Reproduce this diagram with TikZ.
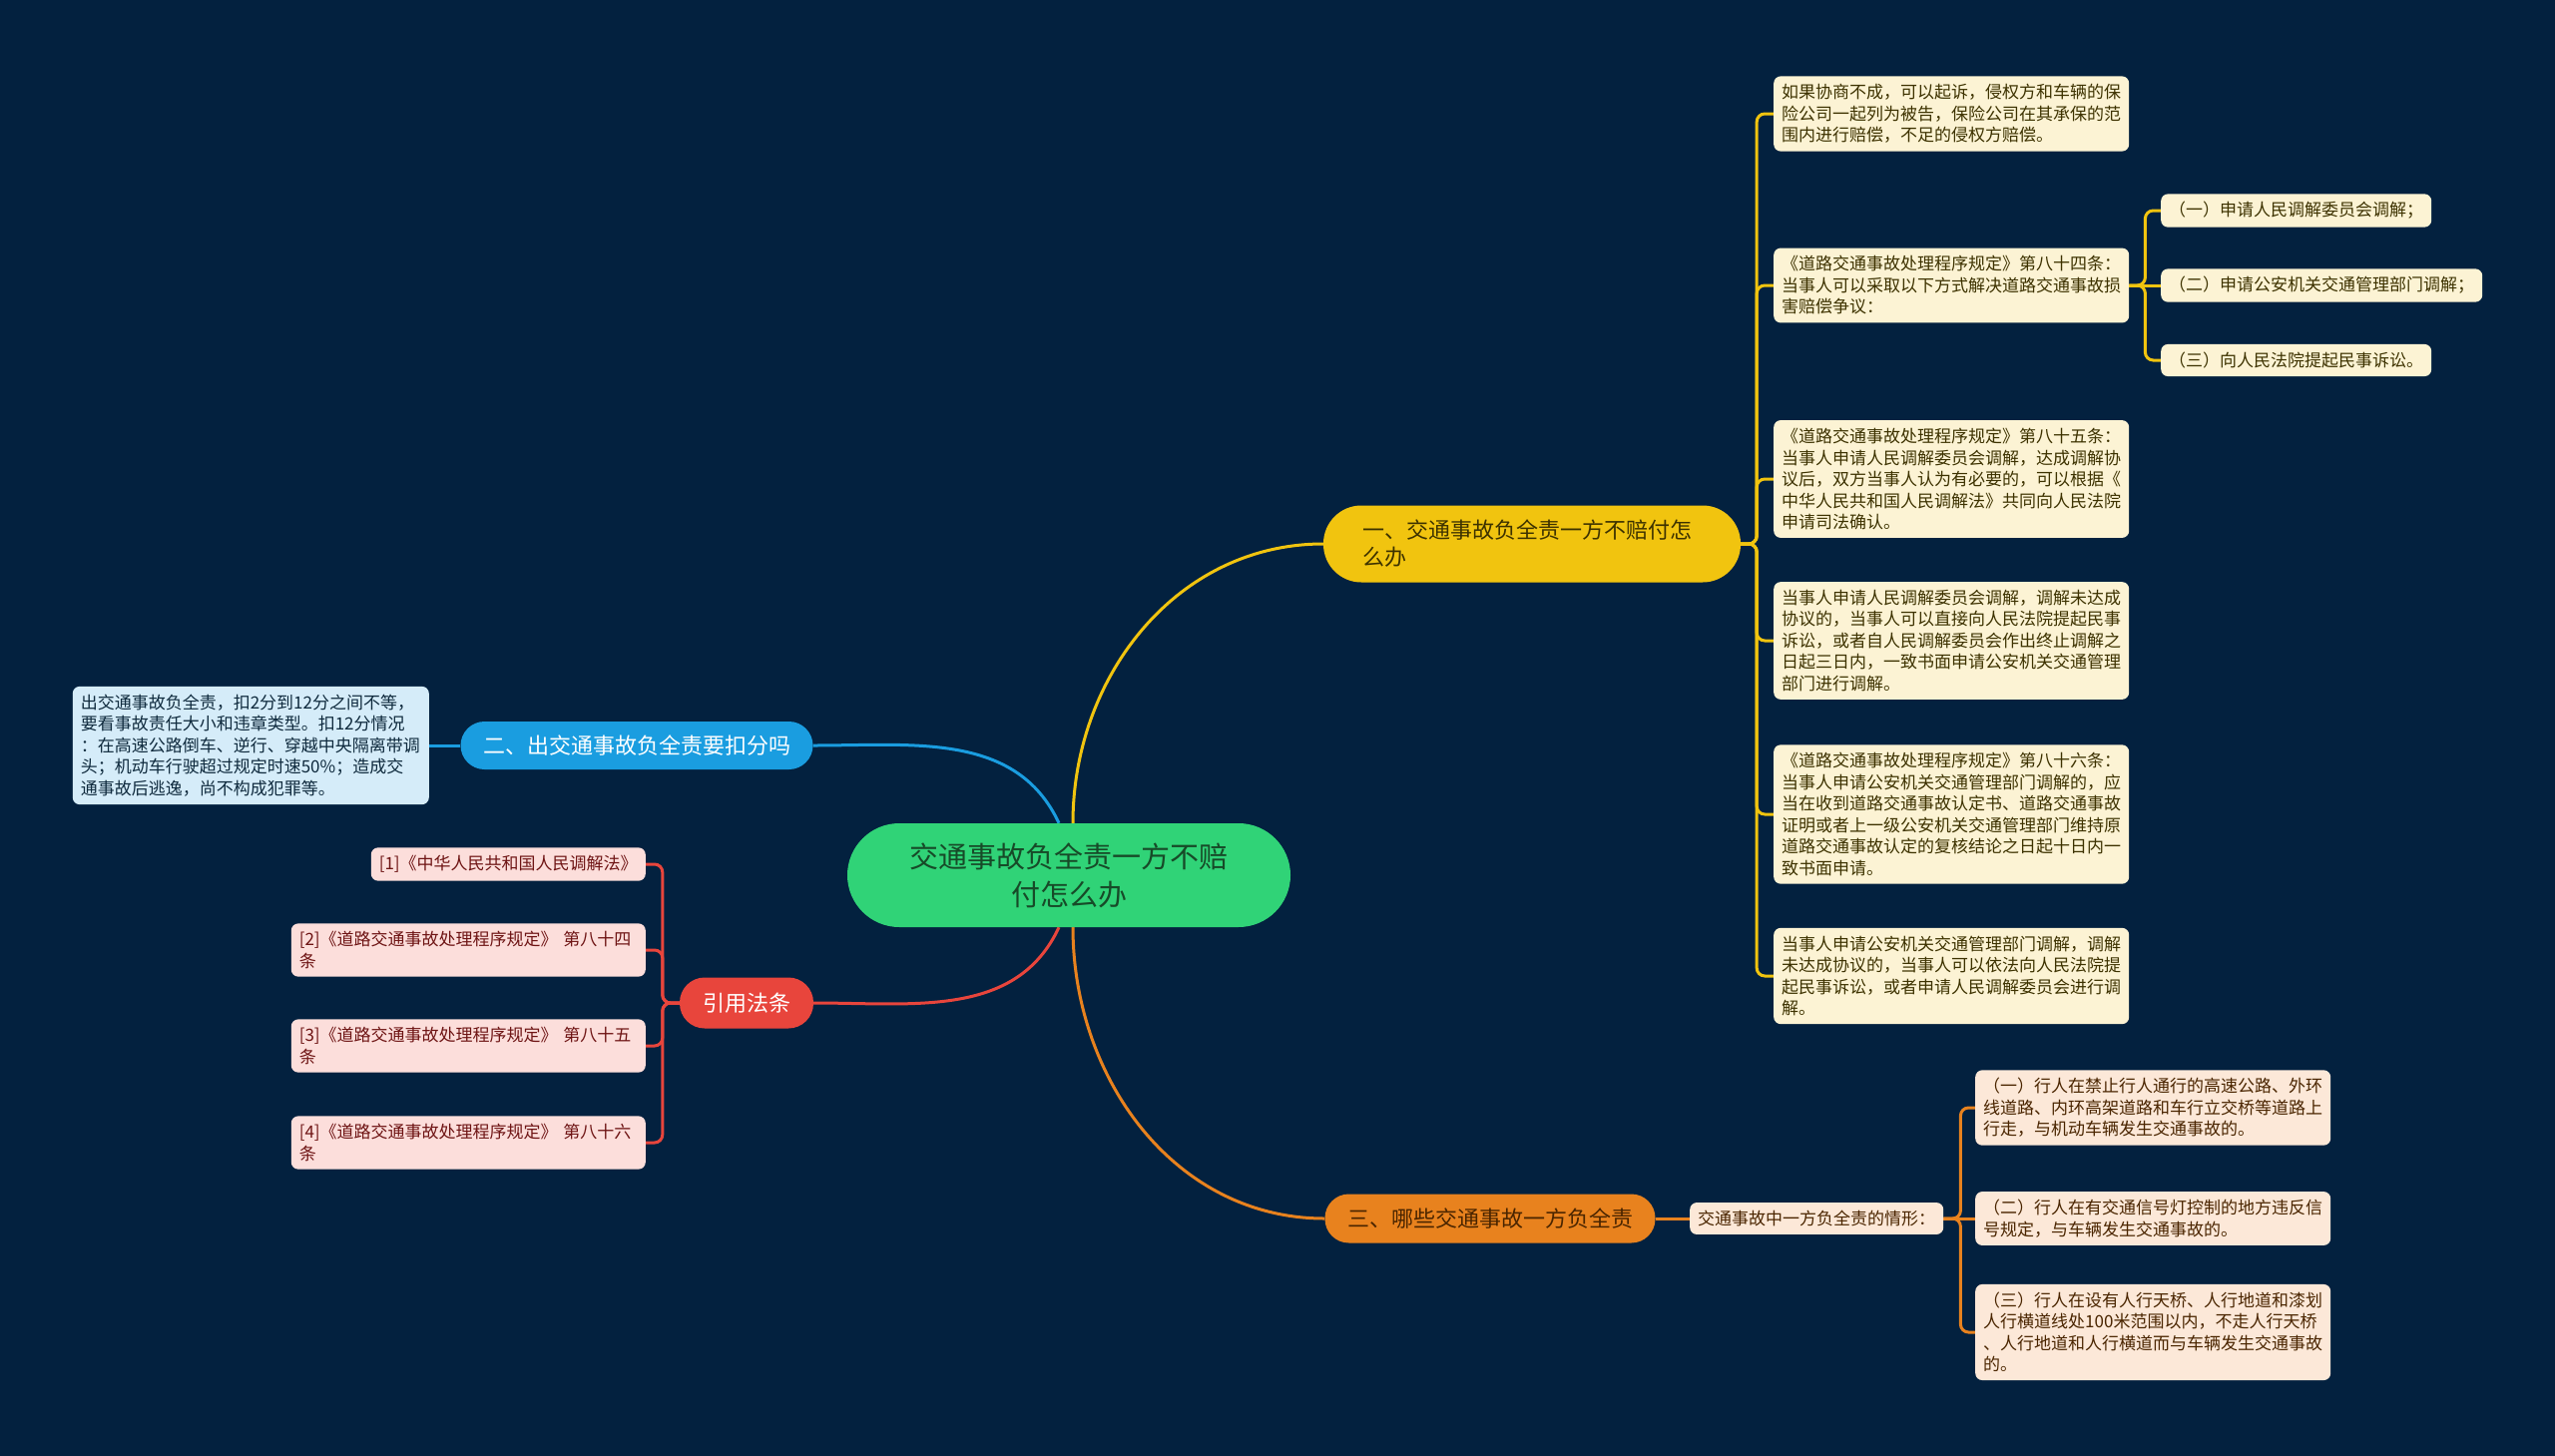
\documentclass[tikz,border=0pt]{standalone}
\usepackage{fontspec}
\newfontfamily\cjk{Noto Sans CJK SC}
\usetikzlibrary{backgrounds}

\definecolor{bgnavy}{HTML}{03213F}
\definecolor{mainfill}{HTML}{30D377}
\definecolor{maintext}{HTML}{174A28}
\definecolor{yline}{HTML}{F1C40F}
\definecolor{yfill}{HTML}{FCF3D4}
\definecolor{ytext}{HTML}{3D3200}
\definecolor{bline}{HTML}{1A9DE0}
\definecolor{bfill}{HTML}{D5ECF9}
\definecolor{btext}{HTML}{0F2A3D}
\definecolor{rline}{HTML}{E8453C}
\definecolor{rfill}{HTML}{FCDEDB}
\definecolor{rtext}{HTML}{6E1414}
\definecolor{oline}{HTML}{E8821E}
\definecolor{ofill}{HTML}{FCE8D8}
\definecolor{otext}{HTML}{4A2500}

\tikzset{
  leaf/.style={rounded corners=7pt, inner xsep=8pt, inner ysep=8pt, align=left,
    font=\cjk\fontsize{17}{21.5}\selectfont},
  yleaf/.style={leaf, fill=yfill, text=ytext, anchor=west},
  bleaf/.style={leaf, fill=bfill, text=btext, anchor=east},
  rleaf/.style={leaf, fill=rfill, text=rtext, anchor=east},
  oleaf/.style={leaf, fill=ofill, text=otext, anchor=west},
  branch/.style={font=\cjk\fontsize{22}{27}\selectfont, inner sep=0pt},
  ylink/.style={draw=yline, line width=3pt},
  blink/.style={draw=bline, line width=3pt},
  rlink/.style={draw=rline, line width=3pt},
  olink/.style={draw=oline, line width=3pt},
  elbow/.style={rounded corners=8pt}
}

\begin{document}
\begin{tikzpicture}[x=1pt,y=1pt,yscale=-1,xscale=1]
\useasboundingbox (0,0) rectangle (2560,1459);

% central topic
\node[fill=mainfill, text=maintext, rounded corners=52pt, minimum width=444pt, minimum height=104pt,
  align=center, inner sep=0pt, font=\cjk\fontsize{29}{38}\selectfont] (main) at (1071,877)
  {交通事故负全责一方不赔\\付怎么办};

% branches
\node[branch, fill=yline, text=ytext, rounded corners=38pt, minimum width=418pt, minimum height=77pt,
  text width=340pt, align=left] (yb) at (1535,545) {一、交通事故负全责一方不赔付怎\\么办};
\node[branch, fill=bline, text=white, rounded corners=24pt, minimum width=353pt, minimum height=48pt]
  (bb) at (638,747) {二、出交通事故负全责要扣分吗};
\node[branch, fill=rline, text=white, rounded corners=25pt, minimum width=134pt, minimum height=51pt]
  (rb) at (748,1005) {引用法条};
\node[branch, fill=oline, text=otext, rounded corners=24pt, minimum width=331pt, minimum height=49pt]
  (ob) at (1493,1221) {三、哪些交通事故一方负全责};

% yellow leaves
\node[yleaf, text width=340pt] (y1) at (1777,114) {如果协商不成，可以起诉，侵权方和车辆的保\\险公司一起列为被告，保险公司在其承保的范\\围内进行赔偿，不足的侵权方赔偿。};
\node[yleaf, text width=340pt] (y2) at (1777,286) {《道路交通事故处理程序规定》第八十四条：\\当事人可以采取以下方式解决道路交通事故损\\害赔偿争议：};
\node[yleaf, text width=340pt] (y3) at (1777,480) {《道路交通事故处理程序规定》第八十五条：\\当事人申请人民调解委员会调解，达成调解协\\议后，双方当事人认为有必要的，可以根据《\\中华人民共和国人民调解法》共同向人民法院\\申请司法确认。};
\node[yleaf, text width=340pt] (y4) at (1777,642) {当事人申请人民调解委员会调解，调解未达成\\协议的，当事人可以直接向人民法院提起民事\\诉讼，或者自人民调解委员会作出终止调解之\\日起三日内，一致书面申请公安机关交通管理\\部门进行调解。};
\node[yleaf, text width=340pt] (y5) at (1777,816) {《道路交通事故处理程序规定》第八十六条：\\当事人申请公安机关交通管理部门调解的，应\\当在收到道路交通事故认定书、道路交通事故\\证明或者上一级公安机关交通管理部门维持原\\道路交通事故认定的复核结论之日起十日内一\\致书面申请。};
\node[yleaf, text width=340pt] (y6) at (1777,978) {当事人申请公安机关交通管理部门调解，调解\\未达成协议的，当事人可以依法向人民法院提\\起民事诉讼，或者申请人民调解委员会进行调\\解。};

\node[yleaf] (s1) at (2165,211) {（一）申请人民调解委员会调解；};
\node[yleaf] (s2) at (2165,286) {（二）申请公安机关交通管理部门调解；};
\node[yleaf] (s3) at (2165,361) {（三）向人民法院提起民事诉讼。};

% blue leaf
\node[bleaf, text width=341pt] (bl) at (430,747) {出交通事故负全责，扣2分到12分之间不等，\\要看事故责任大小和违章类型。扣12分情况\\：在高速公路倒车、逆行、穿越中央隔离带调\\头；机动车行驶超过规定时速50\%；造成交\\通事故后逃逸，尚不构成犯罪等。};

% red leaves
\node[rleaf, text width=259pt] (r1) at (647,866) {[1]《中华人民共和国人民调解法》};
\node[rleaf, text width=339pt] (r2) at (647,952) {[2]《道路交通事故处理程序规定》 第八十四\\条};
\node[rleaf, text width=339pt] (r3) at (647,1048) {[3]《道路交通事故处理程序规定》 第八十五\\条};
\node[rleaf, text width=339pt] (r4) at (647,1145) {[4]《道路交通事故处理程序规定》 第八十六\\条};

% orange leaves
\node[oleaf] (om) at (1693,1221) {交通事故中一方负全责的情形：};
\node[oleaf, text width=340pt] (o1) at (1979,1110) {（一）行人在禁止行人通行的高速公路、外环\\线道路、内环高架道路和车行立交桥等道路上\\行走，与机动车辆发生交通事故的。};
\node[oleaf, text width=340pt] (o2) at (1979,1221) {（二）行人在有交通信号灯控制的地方违反信\\号规定，与车辆发生交通事故的。};
\node[oleaf, text width=340pt] (o3) at (1979,1335) {（三）行人在设有人行天桥、人行地道和漆划\\人行横道线处100米范围以内，不走人行天桥\\、人行地道和人行横道而与车辆发生交通事故\\的。};

\begin{pgfonlayer}{background}
\fill[bgnavy] (0,0) rectangle (2560,1459);

% main to branches (y axis is flipped: -90 points up)
\draw[ylink] ([xshift=4pt]main.north) to[out=-90,in=180] (yb.west);
\draw[blink] ([xshift=-10pt]main.north) to[out=-115,in=0] (bb.east);
\draw[rlink] ([xshift=-10pt]main.south) to[out=115,in=0] (rb.east);
\draw[olink] ([xshift=4pt]main.south) to[out=90,in=180] (ob.west);

% branches to leaves
\foreach \n in {y1,y2,y3,y4,y5,y6}
  \draw[ylink, elbow] (yb.east) -- ++(16pt,0) |- (\n.west);
\foreach \n in {s1,s3}
  \draw[ylink, elbow] (y2.east) -- ++(16pt,0) |- (\n.west);
\draw[ylink] (y2.east) -- (s2.west);

\draw[blink] (bb.west) -- (bl.east);

\foreach \n in {r1,r2,r3,r4}
  \draw[rlink, elbow] (rb.west) -- ++(-17pt,0) |- (\n.east);

\draw[olink] (ob.east) -- (om.west);
\foreach \n in {o1,o3}
  \draw[olink, elbow] (om.east) -- ++(17pt,0) |- (\n.west);
\draw[olink] (om.east) -- (o2.west);
\end{pgfonlayer}

\end{tikzpicture}
\end{document}
